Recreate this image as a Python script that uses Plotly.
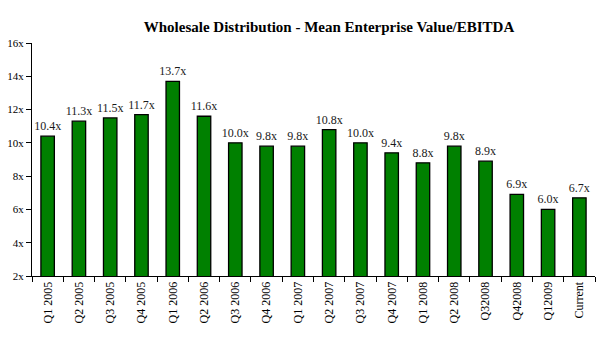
import plotly.graph_objects as go

categories = ["Q1 2005", "Q2 2005", "Q3 2005", "Q4 2005", "Q1 2006", "Q2 2006",
              "Q3 2006", "Q4 2006", "Q1 2007", "Q2 2007", "Q3 2007", "Q4 2007",
              "Q1 2008", "Q2 2008", "Q32008", "Q42008", "Q12009", "Current"]
values = [10.4, 11.3, 11.5, 11.7, 13.7, 11.6, 10.0, 9.8, 9.8, 10.8, 10.0, 9.4,
          8.8, 9.8, 8.9, 6.9, 6.0, 6.7]
labels = [f"{v:.1f}x" for v in values]

serif = "Liberation Serif, Times New Roman, serif"

fig = go.Figure(go.Bar(
    x=categories, y=values, text=labels, textposition="outside",
    constraintext="none",
    textfont=dict(family=serif, size=12, color="#1a1a1a"),
    marker=dict(color="#008000", line=dict(color="black", width=1.3)),
    cliponaxis=False,
))

fig.update_layout(
    width=601, height=340,
    margin=dict(l=32, r=6, t=43, b=64),
    paper_bgcolor="white", plot_bgcolor="white",
    bargap=0.57,
    showlegend=False,
    title=dict(text="<b>Wholesale Distribution - Mean Enterprise Value/EBITDA</b>",
               x=329 / 601, xanchor="center", y=1 - 27/340, yanchor="middle",
               font=dict(family=serif, size=15, color="black")),
    font=dict(family=serif, size=11, color="black"),
)
fig.update_xaxes(
    showline=True, linecolor="black", linewidth=1,
    ticks="outside", ticklen=5, tickcolor="black", tickson="boundaries",
    tickangle=-90, tickfont=dict(family=serif, size=12, color="black"),
    showgrid=False,
)
fig.update_yaxes(
    range=[2, 16], dtick=2, ticksuffix="x",
    showline=True, linecolor="black", linewidth=1,
    ticks="outside", ticklen=5, tickcolor="black",
    tickfont=dict(family=serif, size=11, color="black"),
    showgrid=False, zeroline=False,
)

fig.write_html("out.html")
